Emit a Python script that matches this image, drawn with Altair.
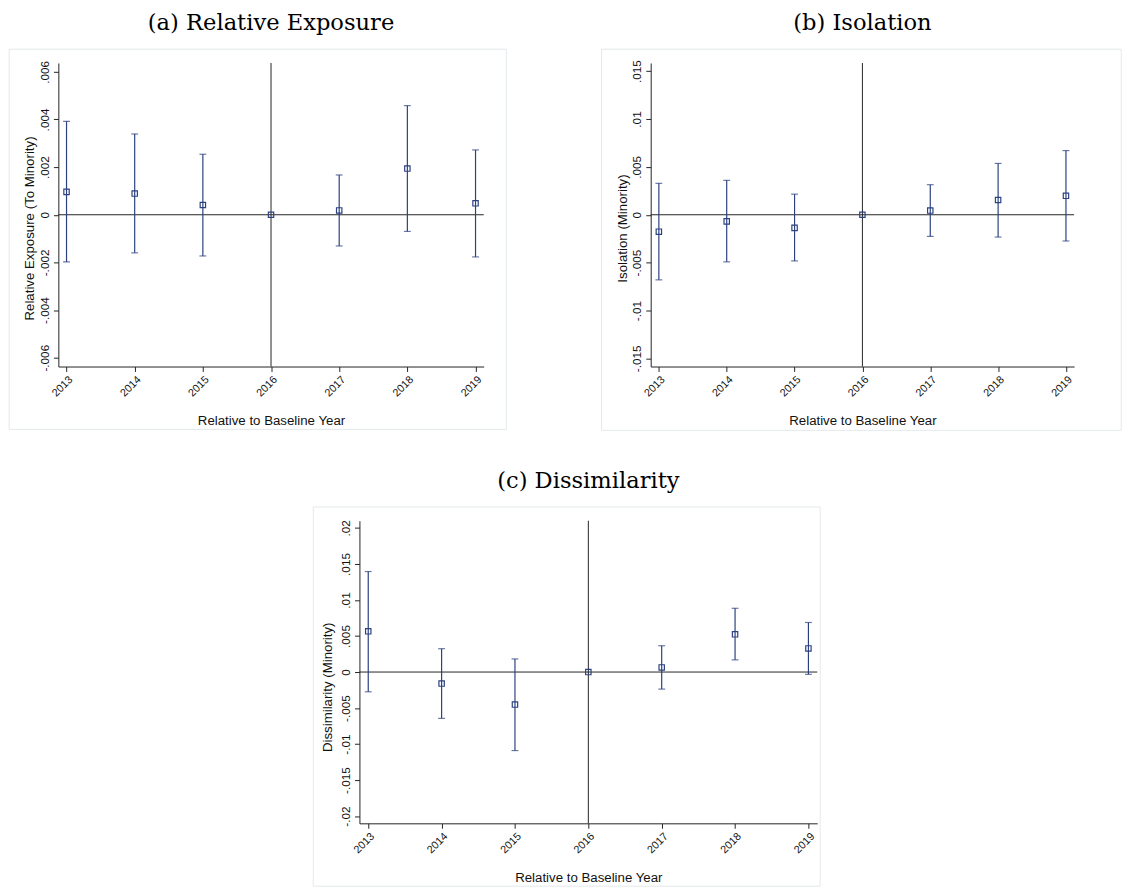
import altair as alt
import pandas as pd

years = [2013, 2014, 2015, 2016, 2017, 2018, 2019]

# (a) Relative Exposure
exp_est = [0.00096, 0.00089, 0.00041, 0.0, 0.00018, 0.00194, 0.00048]
exp_lo = [-0.00198, -0.00160, -0.00173, None, -0.00131, -0.00070, -0.00177]
exp_hi = [0.00392, 0.00339, 0.00254, None, 0.00167, 0.00458, 0.00272]

# (b) Isolation
iso_est = [-0.00177, -0.00069, -0.00137, 0.0, 0.00044, 0.00154, 0.00198]
iso_lo = [-0.00680, -0.00492, -0.00482, None, -0.00226, -0.00233, -0.00274]
iso_hi = [0.00328, 0.00359, 0.00215, None, 0.00314, 0.00536, 0.00670]

# (c) Dissimilarity
dis_est = [0.00565, -0.00160, -0.00451, 0.0, 0.00064, 0.00524, 0.00328]
dis_lo = [-0.00274, -0.00643, -0.01090, None, -0.00237, 0.00169, -0.00032]
dis_hi = [0.01395, 0.00324, 0.00182, None, 0.00365, 0.00885, 0.00688]

exp_ticks = [-0.006, -0.004, -0.002, 0, 0.002, 0.004, 0.006]
iso_ticks = [-0.015, -0.01, -0.005, 0, 0.005, 0.01, 0.015]
dis_ticks = [-0.02, -0.015, -0.01, -0.005, 0, 0.005, 0.01, 0.015, 0.02]

NAVY = "#2a4080"
AXC = "#222222"
FRAME = "#e2e9eb"
LABEL_EXPR = ("datum.value == 0 ? '0' : (datum.value < 0 ? '-' : '') + "
              "replace(format(abs(datum.value), '~g'), '0.', '.')")


def panel(est, lo, hi, title, ytitle, ymax, yticks, W, H, fbox,
          ytx, yty, xty):
    df = pd.DataFrame({"year": years, "est": est, "lo": lo, "hi": hi})
    xs = alt.Scale(domain=[2012.88, 2019.12], nice=False, zero=False)
    ys = alt.Scale(domain=[-ymax, ymax], nice=False, zero=False)
    xax = alt.Axis(values=years, format="d", labelAngle=315,
                   labelAlign="right", labelBaseline="top",
                   labelPadding=2, tickSize=5, grid=False,
                   title="Relative to Baseline Year", titleY=xty,
                   titleBaseline="middle", labelFontSize=11,
                   titleFontSize=13.5, domainColor=AXC, tickColor=AXC,
                   labelColor="#111111", titleColor="#111111",
                   labelFont="Liberation Sans", titleFont="Liberation Sans",
                   titleFontWeight="normal")
    yax = alt.Axis(values=yticks, labelExpr=LABEL_EXPR, labelAngle=270,
                   labelAlign="center", labelBaseline="bottom",
                   labelPadding=2, tickSize=5, grid=False, title=ytitle,
                   titleAngle=270, titleAlign="center",
                   titleBaseline="middle", titleX=ytx, titleY=yty,
                   labelFontSize=12, titleFontSize=13.5, domainColor=AXC,
                   tickColor=AXC, labelColor="#111111",
                   titleColor="#111111", labelFont="Liberation Sans",
                   titleFont="Liberation Sans", titleFontWeight="normal")

    def X(f):
        return alt.X(f"{f}:Q", scale=xs, axis=xax)

    def Y(f):
        return alt.Y(f"{f}:Q", scale=ys, axis=yax)

    base = alt.Chart(df)
    ci = base.transform_filter("isValid(datum.lo)")
    fx0, fx1, fy0, fy1 = fbox
    frame = alt.Chart(pd.DataFrame({"k": [0]})).mark_rect(
        fillOpacity=0, stroke=FRAME, strokeWidth=1, clip=False
    ).encode(x=alt.value(fx0), x2=alt.value(W + fx1),
             y=alt.value(fy0), y2=alt.value(H + fy1))
    hline = alt.Chart(pd.DataFrame({"z": [0.0]})).mark_rule(
        color=AXC, strokeWidth=1).encode(y=Y("z"))
    vline = alt.Chart(pd.DataFrame({"v": [2016]})).mark_rule(
        color=AXC, strokeWidth=1).encode(x=X("v"))
    bars = ci.mark_rule(color=NAVY, strokeWidth=1.2).encode(
        x=X("year"), y=Y("lo"), y2="hi:Q")
    cap_lo = ci.mark_tick(color=NAVY, orient="horizontal", size=7,
                          thickness=1.2).encode(x=X("year"), y=Y("lo"))
    cap_hi = ci.mark_tick(color=NAVY, orient="horizontal", size=7,
                          thickness=1.2).encode(x=X("year"), y=Y("hi"))
    pts = base.mark_point(shape="square", filled=False, size=30,
                          strokeWidth=1.2, color=NAVY, opacity=1).encode(
        x=X("year"), y=Y("est"))
    return alt.layer(frame, hline, vline, bars, cap_lo, cap_hi, pts).properties(
        width=W, height=H,
        title=alt.TitleParams(title, font="DejaVu Serif", fontSize=23,
                              fontWeight="normal", color="#000000",
                              anchor="middle", frame="group", offset=14))


pa = panel(exp_est, exp_lo, exp_hi, "(a) Relative Exposure",
           "Relative Exposure (To Minority)", 0.00637, exp_ticks,
           433, 309, (-50, 23, -14, 64), -29, 168, 55)
pb = panel(iso_est, iso_lo, iso_hi, "(b) Isolation",
           "Isolation (Minority)", 0.01585, iso_ticks,
           431, 309, (-50, 48, -14, 65), -29, 168, 55)
pc = panel(dis_est, dis_lo, dis_hi, "(c) Dissimilarity",
           "Dissimilarity (Minority)", 0.021, dis_ticks,
           466, 308, (-47, 3, -14, 64), -32, 169, 55)

top = alt.hconcat(pa, pb, spacing=95)
chart = alt.vconcat(top, pc, spacing=39, center=True).properties(
    padding={"left": 0, "top": -4, "right": 0, "bottom": 0},
    background="white"
).configure_view(stroke=None).configure_axis(
    labelFont="Liberation Sans", titleFont="Liberation Sans",
    titleFontWeight="normal"
)

chart.save("out.html", embed_options={"renderer": "svg", "actions": False})
